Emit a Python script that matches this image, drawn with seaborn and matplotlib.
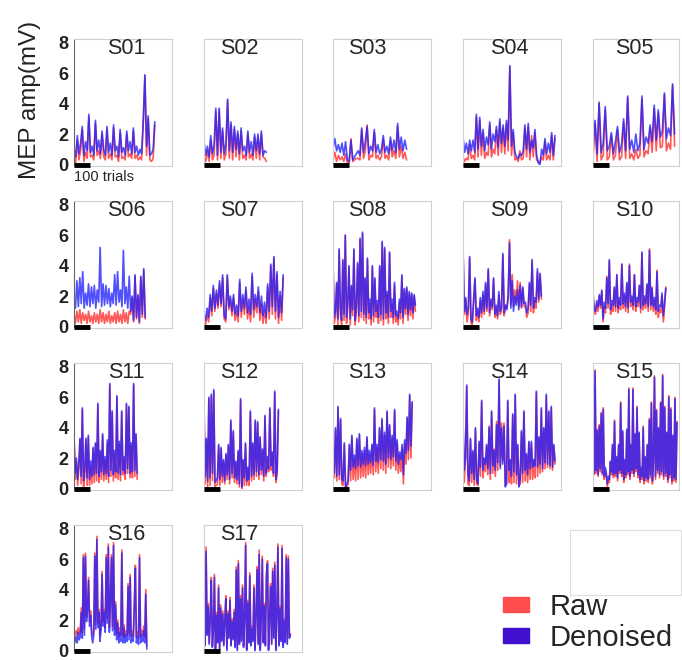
import numpy as np
import matplotlib
matplotlib.use("Agg")
import matplotlib.pyplot as plt
from matplotlib.patches import Patch
import seaborn as sns

# subjects and number of trials recorded
subjects = ['S%02d' % i for i in range(1, 18)]
n_trials = [505, 390, 460, 575, 510, 445, 495, 515, 490, 455, 395, 465, 495, 575, 525, 455, 540]

# MEP amplitudes (mV)
s01_den = [1.0,0.5,1.9,0.7,1.4,2.5,0.6,1.5,0.9,3.3,0.8,1.2,0.6,2.9,0.9,1.6,0.7,2.2,1.0,0.6,2.5,0.8,1.4,0.6,2.6,0.9,1.2,0.5,2.3,0.8,1.1,0.6,2.2,0.9,1.5,0.7,2.4,0.8,1.2,0.6,1.0,0.7,2.9,5.9,1.2,3.2,0.6,0.7,1.0,2.8]
s01_raw = [0.4,0.1,1.6,0.3,0.9,2.3,0.2,0.8,0.4,3.1,0.5,0.6,0.3,2.7,0.6,0.9,0.4,2.0,0.5,0.3,2.3,0.4,0.7,0.3,2.4,0.5,0.6,0.2,2.1,0.4,0.5,0.3,2.0,0.5,0.7,0.4,2.2,0.4,0.6,0.3,0.5,0.3,2.7,5.8,0.6,3.0,0.3,0.2,0.4,2.6]
s02_den = [1.5,0.6,1.2,0.5,1.9,0.7,1.3,3.7,0.6,3.7,0.8,2.4,0.7,1.4,4.3,0.9,2.8,0.8,2.5,1.0,2.2,0.7,2.4,0.9,1.2,0.6,2.2,0.8,1.5,0.6,2.0,0.9,2.0,0.7,2.2,0.6,0.9,0.8]
s02_raw = [0.5,0.2,0.9,0.2,1.6,0.3,0.6,3.5,0.3,3.6,0.4,2.2,0.3,0.7,4.2,0.4,2.6,0.3,2.3,0.5,2.0,0.3,2.2,0.4,0.6,0.3,2.0,0.4,0.7,0.3,1.8,0.4,1.8,0.3,2.0,0.5,0.4,0.2]
s03_den = [1.0,1.7,0.9,1.3,0.8,1.4,0.6,1.5,0.3,0.2,1.6,0.3,0.5,0.7,0.9,0.6,2.4,0.8,1.5,2.5,0.7,1.2,0.9,2.3,0.8,1.3,0.7,1.0,1.9,0.8,1.2,0.7,1.8,0.9,1.6,0.8,2.7,1.0,1.8,0.9,1.6,1.0]
s03_raw = [0.3,0.8,0.2,0.6,0.3,0.5,0.2,0.7,0.1,0.1,1.7,0.2,0.3,0.4,0.4,0.3,2.3,0.4,0.9,2.6,0.3,0.6,0.5,2.1,0.4,0.6,0.3,0.5,1.7,0.4,0.6,0.3,1.6,0.5,0.9,0.4,2.5,0.5,1.2,0.4,0.8,0.3]
s04_den = [1.8,0.8,1.4,0.7,1.6,0.9,1.6,0.8,3.3,1.0,3.1,1.2,2.3,0.9,1.8,1.3,2.8,1.0,2.0,1.5,2.5,1.1,3.0,1.4,2.6,1.2,2.9,1.6,6.5,1.2,2.3,0.8,0.5,0.4,0.7,0.6,0.9,2.6,1.0,2.7,0.8,1.6,1.1,2.3,0.6,0.1,0.0,1.0,0.6,1.7,0.7,1.4,0.8,2.1,0.6,1.9]
s04_raw = [0.5,0.2,0.4,0.3,1.3,0.4,0.6,0.3,3.1,0.5,2.9,0.6,2.1,0.4,0.8,0.6,2.6,0.5,1.0,0.7,2.3,0.6,2.8,0.8,2.4,0.7,2.7,0.9,6.4,0.6,2.1,0.3,0.4,0.2,0.9,0.3,0.4,2.4,0.5,2.5,0.3,1.9,0.5,2.1,0.3,0.2,0.1,0.5,0.3,1.5,0.3,0.6,0.3,1.9,0.3,1.7]
s05_den = [1.0,2.9,0.7,4.1,0.8,1.4,3.8,0.9,1.2,2.1,0.7,1.5,2.5,0.8,1.3,3.0,0.9,4.5,1.0,1.6,0.8,2.0,0.9,1.4,4.5,1.0,1.8,1.4,2.6,1.5,3.9,1.6,3.6,1.8,2.2,4.7,1.7,2.4,1.9,5.3,2.0]
s05_raw = [0.3,2.7,0.2,4.0,0.3,0.6,3.6,0.3,0.5,1.9,0.3,0.6,2.3,0.3,0.5,2.8,0.4,4.4,0.4,0.7,0.3,1.0,0.4,0.6,4.3,0.5,0.9,0.7,2.4,0.8,3.7,0.9,3.4,1.1,1.2,4.6,0.9,1.4,1.0,5.2,1.2]
s06_den = [1.8,1.2,3.0,1.3,3.2,1.5,3.6,1.2,2.2,1.4,2.8,1.3,2.6,1.5,2.7,1.2,2.4,1.6,5.2,1.3,2.8,1.4,2.7,1.5,2.5,1.3,2.2,1.5,3.4,1.4,3.6,1.6,2.4,1.3,5.0,1.5,2.6,1.2,3.3,1.0,2.0,0.4,3.4,0.6,2.1,0.3,3.3,0.8,3.8,0.6]
s06_raw = [0.9,0.2,1.0,0.3,1.1,0.2,0.9,0.4,0.8,0.2,1.0,0.3,0.7,0.2,0.9,0.3,0.8,0.2,1.1,0.3,0.9,0.2,0.8,0.3,1.0,0.2,0.7,0.3,0.9,0.2,1.0,0.3,0.8,0.2,1.1,0.3,0.9,0.2,1.0,0.8,1.9,0.3,3.3,0.5,2.0,0.2,3.2,0.6,3.7,0.5]
s07_den = [0.8,0.4,1.2,0.6,2.1,1.0,2.7,1.2,2.4,1.4,3.0,1.5,3.4,0.7,0.5,3.4,1.3,2.0,1.0,2.1,0.8,1.4,0.7,3.1,1.0,2.1,1.2,2.6,0.9,1.8,0.8,3.5,1.1,2.1,1.3,2.6,0.9,2.0,0.7,1.6,0.6,2.8,1.0,4.1,1.3,4.6,1.0,3.6,0.6,2.3,0.9,3.4]
s07_raw = [0.3,0.1,0.8,0.3,1.9,0.7,2.5,1.0,2.2,1.2,2.8,1.3,3.2,0.5,0.3,3.3,1.1,1.8,0.7,1.9,0.4,1.0,0.3,2.9,0.6,1.8,0.8,2.4,0.5,1.3,0.3,3.3,0.6,1.8,0.9,2.3,0.4,1.5,0.2,1.1,0.2,2.6,0.5,4.0,0.8,4.5,0.5,3.4,0.2,2.0,0.4,3.2]
s08_den = [4.1,0.6,1.0,2.9,0.5,5.1,1.2,0.4,4.4,0.8,6.0,0.6,1.6,4.0,0.5,2.7,1.1,5.1,0.4,1.4,4.2,0.7,5.8,1.0,6.2,0.8,3.2,0.6,4.5,0.9,1.8,0.5,4.0,0.7,3.2,1.0,1.7,0.6,4.0,0.8,5.6,0.5,5.2,0.9,2.3,0.6,4.9,1.0,1.8,0.6,2.9,0.7,1.0,0.5,1.8,0.9,3.4,0.6,2.5,1.2,2.6,0.8,2.3,1.1,2.2,0.9,2.1,1.4]
s08_raw = [4.2,0.2,0.6,2.8,0.1,5.0,0.8,0.1,4.3,0.4,6.0,0.2,1.2,3.9,0.1,2.6,0.7,5.0,0.1,1.0,4.1,0.3,5.7,0.6,6.1,0.4,3.1,0.2,4.4,0.5,1.5,0.1,3.9,0.3,3.1,0.6,1.4,0.2,3.9,0.4,5.5,0.1,5.1,0.5,2.1,0.2,4.8,0.6,1.5,0.2,2.7,0.3,0.7,0.1,1.6,0.5,3.3,0.2,2.4,0.8,2.5,0.4,2.2,0.7,2.1,0.5,2.0,1.0]
s09_den = [5.2,1.0,1.9,0.8,1.2,4.6,0.5,0.3,1.8,3.2,0.7,1.2,0.6,1.9,0.9,2.3,1.0,2.9,1.2,3.8,0.9,1.8,1.3,3.2,0.8,1.4,0.7,2.3,1.0,1.2,4.8,0.9,1.4,1.1,1.9,5.5,1.2,3.0,1.0,2.0,1.4,2.4,1.1,2.7,1.3,2.6,1.5,1.6,0.9,1.2,2.9,1.4,4.4,1.2,1.9,1.6,3.8,1.8,3.5,2.0]
s09_raw = [5.3,0.8,1.8,0.3,0.8,4.5,0.2,0.1,1.5,3.1,0.4,1.0,0.3,1.7,0.6,2.1,0.8,2.8,1.0,3.7,0.7,1.6,1.1,3.1,0.6,1.2,0.5,2.1,0.8,1.0,4.7,0.7,1.4,1.2,2.1,5.7,1.4,3.4,1.3,2.4,1.6,3.0,1.3,2.9,1.2,2.5,1.3,1.3,0.6,0.9,2.8,1.0,4.3,0.9,1.7,1.2,3.6,1.6,3.4,1.8]
s10_den = [2.1,1.2,1.0,1.7,1.3,2.1,1.4,2.4,0.5,1.6,1.2,3.2,1.5,4.4,1.1,1.7,1.4,2.6,1.3,3.4,1.2,1.9,1.4,4.1,1.5,2.2,1.3,2.9,1.2,4.0,1.6,2.0,1.4,3.4,1.3,1.9,1.6,2.7,1.2,4.9,1.4,2.0,1.5,2.8,1.3,5.0,1.4,2.5,1.3,1.9,1.1,3.6,1.0,1.4,1.3,2.2,0.7,1.5,2.5]
s10_raw = [2.2,1.0,0.8,1.5,1.0,2.0,1.2,2.3,0.3,1.3,0.9,3.3,1.2,4.3,0.8,1.4,1.0,2.5,1.0,3.4,0.9,1.7,1.1,4.1,1.2,2.0,1.0,2.8,0.9,4.1,1.3,1.8,1.1,3.4,1.0,1.7,1.3,2.7,0.9,4.8,1.1,1.8,1.2,2.7,1.0,5.1,1.1,2.6,1.0,1.7,0.8,3.7,0.6,1.1,0.9,2.0,0.3,1.2,2.6]
s11_den = [3.4,1.0,2.0,0.6,1.6,3.3,0.8,5.3,0.5,1.3,3.3,0.7,3.5,0.6,1.8,0.8,2.7,0.9,3.0,1.0,5.6,0.8,2.5,1.1,3.6,0.9,2.1,1.0,3.2,0.8,6.9,1.2,5.1,0.9,2.5,1.1,6.1,1.0,3.1,0.9,5.1,1.2,2.1,1.0,5.6,1.3,5.4,1.0,3.0,1.1,6.9,1.2,3.6,1.0]
s11_raw = [3.5,0.6,1.8,0.2,1.2,3.2,0.3,5.2,0.1,0.8,3.2,0.2,3.4,0.2,1.5,0.3,2.6,0.4,2.9,0.5,5.5,0.4,2.3,0.6,3.5,0.5,1.9,0.6,3.0,0.4,6.8,0.8,5.0,0.5,2.3,0.7,6.0,0.6,2.9,0.5,5.0,0.9,1.9,0.6,5.5,1.0,5.3,0.7,2.8,0.7,6.8,0.8,3.5,0.6]
s12_den = [5.3,0.8,3.3,0.5,6.0,0.7,6.2,1.0,6.5,0.4,0.5,0.7,2.9,0.6,2.7,0.8,1.9,0.5,2.3,0.9,2.9,0.6,4.5,1.0,3.8,0.7,1.8,0.6,2.5,0.3,5.9,0.1,1.9,0.7,3.0,0.5,1.4,0.6,5.1,0.8,3.0,0.9,4.5,1.1,4.4,0.9,3.4,1.2,2.6,0.8,4.8,1.0,2.1,1.3,5.3,1.5,2.4,1.0,6.4,0.6,1.2,5.2]
s12_raw = [5.2,0.3,3.2,0.1,5.9,0.2,6.1,0.5,6.4,0.1,0.2,0.3,2.8,0.2,2.6,0.4,1.8,0.3,2.2,0.6,2.8,0.3,4.4,0.7,3.7,0.4,1.7,0.3,2.4,0.1,5.8,0.0,1.8,0.2,2.9,0.2,1.3,0.2,5.0,0.5,2.9,0.6,4.4,0.8,4.3,0.6,3.3,0.9,2.5,0.5,4.7,0.8,2.0,1.1,5.2,1.2,2.3,0.8,6.3,0.4,1.0,5.1]
s13_den = [2.7,1.0,4.0,0.8,5.4,0.9,4.6,0.6,0.5,3.0,0.1,0.3,0.5,2.9,1.2,3.5,1.4,2.2,1.3,3.3,1.5,3.6,1.4,2.5,1.6,2.7,1.5,3.4,1.6,2.5,1.7,2.9,1.5,5.3,1.8,2.9,1.7,4.0,1.9,4.6,1.8,3.7,1.6,5.1,2.0,4.2,1.9,3.5,2.1,5.2,1.8,3.2,1.6,2.4,1.9,2.9,0.9,3.2,2.3,4.7,2.5,6.2,2.8,5.7]
s13_raw = [2.6,0.7,3.9,0.5,5.3,0.6,4.5,0.3,0.2,2.9,0.0,0.1,0.3,2.8,0.5,3.4,0.6,2.0,0.5,3.2,0.6,3.5,0.7,2.3,0.8,2.5,0.7,3.3,0.9,2.3,1.0,2.8,0.9,5.2,1.1,2.7,1.0,3.9,1.3,4.5,1.2,3.5,1.0,5.0,1.4,4.1,1.3,3.3,1.5,5.1,1.2,3.0,1.0,2.2,1.1,2.7,0.3,3.0,1.6,4.6,1.9,6.1,2.0,5.6]
s14_den = [4.6,1.2,2.0,6.8,0.9,0.5,3.3,1.0,2.5,0.6,4.0,0.5,0.3,3.1,1.4,5.8,1.2,2.0,1.6,2.9,1.3,4.0,1.0,5.1,1.5,2.5,1.2,4.2,1.7,7.2,1.3,4.0,1.6,4.1,0.1,0.3,5.8,1.2,1.9,0.8,4.9,1.1,6.2,0.9,2.9,0.1,0.6,3.8,1.0,5.1,1.2,2.3,0.9,3.1,1.3,3.1,1.4,1.9,1.5,6.4,1.4,3.4,1.6,5.3,1.3,4.0,1.7,6.2,1.6,5.1,1.5,5.4,1.4,2.9,1.8]
s14_raw = [4.5,0.4,1.9,6.7,0.3,0.2,3.2,0.4,2.4,0.2,3.9,0.3,0.2,3.0,0.8,5.7,0.7,1.9,1.1,2.8,0.9,4.1,0.6,5.0,1.0,2.6,0.8,4.4,1.2,7.1,1.5,4.3,1.8,4.3,0.2,0.3,5.7,0.4,1.8,0.3,4.8,0.4,6.1,0.3,2.8,0.2,0.3,3.7,0.4,5.0,0.5,2.2,0.4,3.0,0.6,3.0,0.6,1.8,0.7,6.3,0.8,3.3,1.0,5.2,1.1,3.9,1.3,6.1,1.4,5.0,1.3,5.3,1.2,2.8,1.6]
s15_den = [2.9,1.0,7.7,1.2,3.8,0.9,4.1,1.3,4.9,1.0,5.2,0.8,1.4,1.0,0.3,0.8,0.6,1.8,1.1,2.9,0.9,4.4,1.0,2.1,0.7,2.9,1.2,5.6,1.0,3.8,0.6,1.9,0.9,3.9,1.1,6.5,0.8,2.9,1.2,6.5,1.0,3.6,1.3,5.3,0.9,3.7,0.6,1.4,0.8,4.0,0.5,2.1,0.7,2.9,0.6,4.5,0.9,5.6,0.5,1.9,7.3,0.8,5.1,1.2,4.0,0.9,5.6,1.1,7.4,0.8,5.3,1.0,3.7,0.6,6.0,0.9,5.2,0.5,3.5,0.7,5.9,0.6,4.3]
s15_raw = [3.0,0.9,7.8,1.0,3.9,0.8,4.2,1.1,5.0,0.9,5.3,0.6,1.2,0.8,0.1,0.6,0.4,1.7,0.9,2.8,0.7,4.5,0.8,2.0,0.5,2.8,1.0,5.7,0.8,3.7,0.4,1.8,0.7,3.8,0.9,6.6,0.6,2.8,1.0,6.6,0.8,3.5,1.1,5.4,0.7,3.6,0.4,1.3,0.6,4.1,0.3,2.0,0.5,2.8,0.4,4.6,0.7,5.7,0.3,1.8,7.4,0.6,5.2,1.0,3.9,0.7,5.7,0.9,7.5,0.6,5.4,0.8,3.6,0.4,6.1,0.7,5.3,0.3,3.4,0.5,6.0,0.4,4.4]
s16_den = [0.4,0.6,0.9,0.5,1.2,0.7,0.9,2.5,0.8,6.1,1.0,6.2,1.9,2.6,4.6,1.6,2.3,0.9,0.5,1.0,6.2,1.4,7.3,1.5,2.5,0.6,1.4,5.0,1.6,2.5,1.2,6.1,1.8,6.8,1.2,3.1,6.1,1.3,6.9,1.0,3.0,0.7,1.8,0.5,1.2,0.6,6.4,0.5,1.5,0.5,1.0,0.6,4.2,0.7,4.8,0.5,1.0,0.6,2.9,5.4,0.5,0.9,0.4,6.1,0.5,1.0,0.6,1.3,0.5,3.7,0.1]
s16_raw = [0.7,1.0,1.3,1.0,1.5,1.1,1.2,2.8,1.2,6.3,1.4,6.4,2.2,2.9,4.8,1.9,2.6,1.3,1.0,1.3,6.4,1.7,7.5,1.8,2.7,1.0,1.7,5.2,1.9,2.7,1.5,6.3,2.1,7.0,1.5,3.3,6.3,1.6,7.1,1.4,3.2,1.1,2.0,0.9,1.5,1.0,6.6,0.9,1.7,0.9,1.3,1.0,4.4,1.1,5.0,0.9,1.3,1.0,3.1,5.6,0.9,1.2,0.8,6.3,0.9,1.3,1.0,1.6,0.9,4.0,0.3]
s17_den = [1.8,0.3,6.5,1.0,2.9,0.4,2.1,4.6,0.2,1.2,4.8,0.0,2.3,0.5,4.1,0.0,2.8,0.6,2.4,0.3,1.9,3.4,0.0,2.4,0.8,3.3,0.3,1.9,0.7,2.5,0.2,5.3,0.0,5.7,0.4,3.4,0.6,4.1,0.2,1.9,6.9,0.0,3.1,0.5,4.9,0.3,1.4,0.6,4.1,0.0,2.3,5.3,0.4,6.3,0.0,2.0,6.0,0.5,2.9,0.3,4.9,5.7,0.0,2.1,4.2,0.4,5.2,0.8,5.6,0.0,2.2,6.8,0.3,2.7,0.6,6.7,0.2,1.9,0.5,6.1,0.4,6.0,0.8,1.0]
s17_raw = [2.0,0.4,6.8,1.1,3.1,0.5,2.3,4.8,0.3,1.4,5.0,0.1,2.5,0.6,4.3,0.1,3.0,0.7,2.6,0.4,2.1,3.6,0.1,2.6,0.9,3.5,0.4,2.1,0.8,2.7,0.3,5.5,0.1,5.9,0.5,3.6,0.7,4.3,0.3,2.1,7.1,0.1,3.3,0.6,5.1,0.4,1.6,0.7,4.3,0.1,2.5,5.5,0.5,6.6,0.1,2.2,6.2,0.6,3.1,0.4,5.1,5.9,0.1,2.3,4.4,0.5,5.4,0.9,5.8,0.1,2.4,7.0,0.4,2.9,0.7,6.9,0.3,2.1,0.6,6.3,0.5,6.2,0.9,1.1]

raw_series = [s01_raw, s02_raw, s03_raw, s04_raw, s05_raw, s06_raw, s07_raw, s08_raw, s09_raw,
              s10_raw, s11_raw, s12_raw, s13_raw, s14_raw, s15_raw, s16_raw, s17_raw]
den_series = [s01_den, s02_den, s03_den, s04_den, s05_den, s06_den, s07_den, s08_den, s09_den,
              s10_den, s11_den, s12_den, s13_den, s14_den, s15_den, s16_den, s17_den]

yticks = [0, 2, 4, 6, 8]
raw_color = '#ff3b3b'
den_color = '#1f1fff'

sns.set_style("white")
plt.rcParams['font.family'] = ['Liberation Sans', 'DejaVu Sans']

W, H = 682, 660
fig = plt.figure(figsize=(W / 100, H / 100), dpi=100)

col_left = [74, 204, 333, 463, 593]
title_x = [0.53, 0.36, 0.35, 0.47, 0.48]
px_per_trial = 16 / 100

for i, name in enumerate(subjects):
    r, c = divmod(i, 5)
    w = 98 if c < 4 else 86
    top = 39 + 162 * r
    ax = fig.add_axes([col_left[c] / W, 1 - (top + 127) / H, w / W, 127 / H])

    raw = raw_series[i]
    den = den_series[i]
    x_raw = np.linspace(0, n_trials[i], len(raw))
    x_den = np.linspace(0, n_trials[i], len(den))
    sns.lineplot(x=x_raw, y=raw, ax=ax, color=raw_color, lw=1.2, alpha=0.85)
    sns.lineplot(x=x_den, y=den, ax=ax, color=den_color, lw=1.2, alpha=0.78)

    ax.set_xlim(0, w / px_per_trial)
    ax.set_ylim(-0.1, 8.25)
    ax.set_xticks([])
    if c == 0:
        ax.set_yticks(yticks)
        ax.tick_params(axis='y', length=0, pad=4, labelsize=13)
        for lab in ax.get_yticklabels():
            lab.set_fontweight('bold')
            lab.set_color('#222222')
    else:
        ax.set_yticks([])
    for side, sp in ax.spines.items():
        sp.set_color('#d0d0d0')
        sp.set_linewidth(0.8)
    if c == 0:
        ax.spines['left'].set_color('#666666')

    # 100-trial scale bar
    ax.plot([0, 100], [-0.05, -0.05], color='black', lw=3.5,
            solid_capstyle='butt', clip_on=False, zorder=10)
    if i == 0:
        ax.text(0, -0.085, '100 trials', transform=ax.transAxes,
                ha='left', va='center', fontsize=10.5)

    ax.text(title_x[c], 0.925, name, transform=ax.transAxes,
            ha='center', va='center', fontsize=15.5)

fig.text(30 / W, 1 - 100 / H, 'MEP amp(mV)', rotation=90, ha='center',
         va='center', fontsize=17.5, color='#222222')

# empty box in the corner
box = fig.add_axes([570 / W, 1 - 595 / H, 111 / W, 65 / H])
box.set_xticks([])
box.set_yticks([])
for sp in box.spines.values():
    sp.set_color('#dddddd')
    sp.set_linewidth(0.8)

handles = [Patch(color='#ff4d4d', label='Raw'), Patch(color='#4010d0', label='Denoised')]
fig.legend(handles=handles, loc='upper left', bbox_to_anchor=(503 / W, 1 - 593 / H),
           frameon=False, fontsize=21, handlelength=0.9, handleheight=0.4,
           handletextpad=0.7, labelspacing=0.1, borderaxespad=0, borderpad=0)

fig.savefig('out.png', dpi=100)
